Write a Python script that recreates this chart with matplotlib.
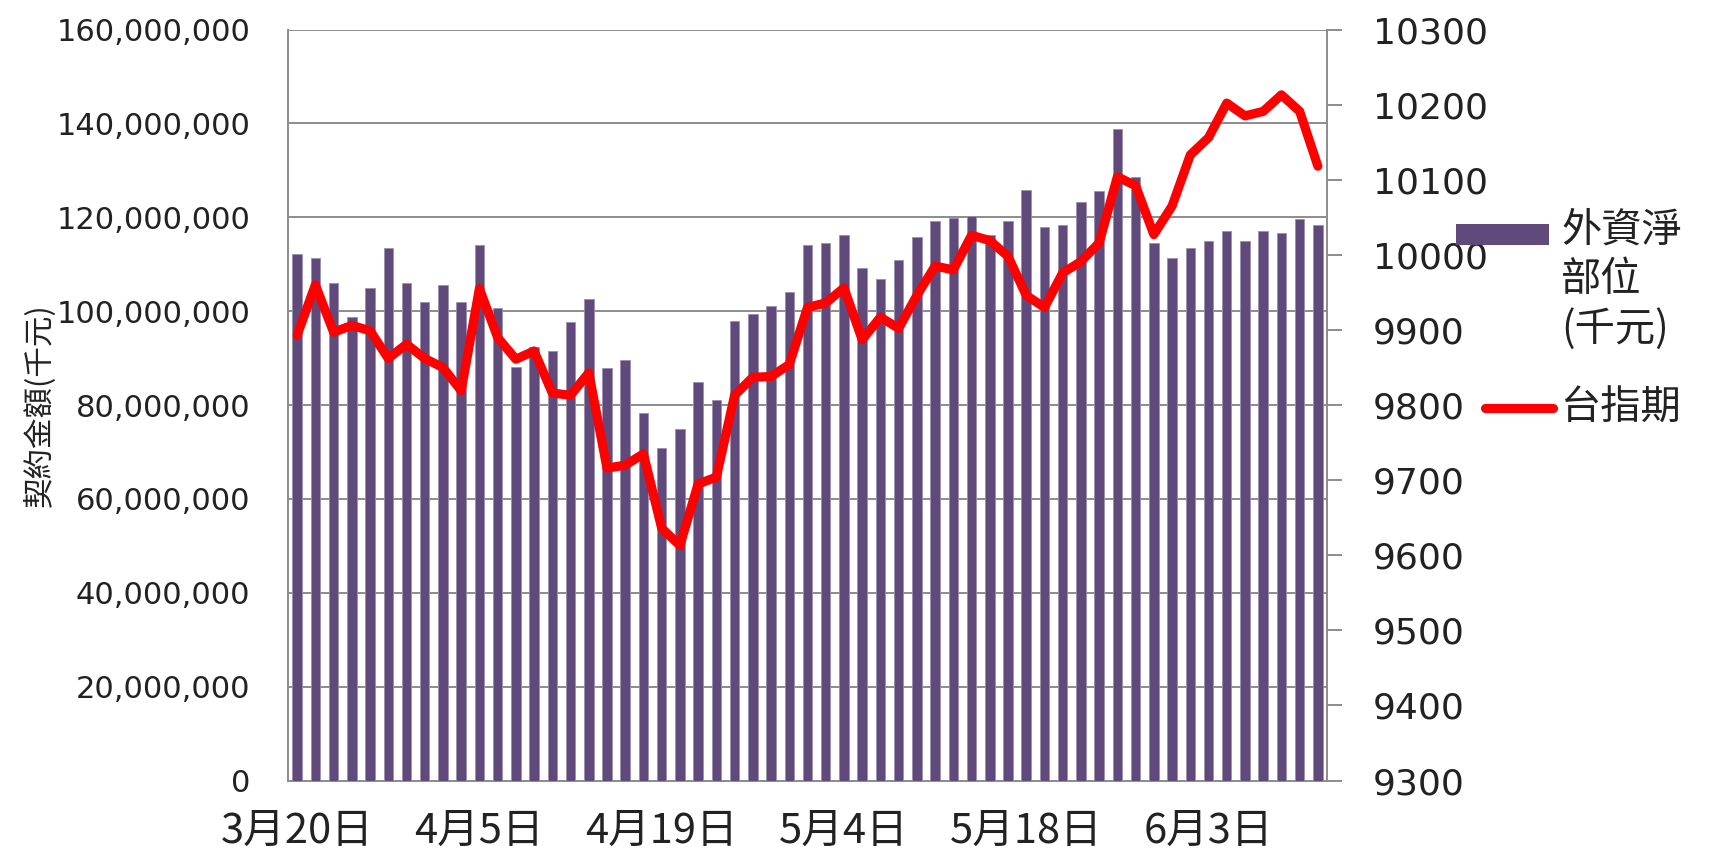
import matplotlib
matplotlib.use("Agg")
import matplotlib.pyplot as plt
from matplotlib.patches import Rectangle
from matplotlib.lines import Line2D
from matplotlib.ticker import FuncFormatter, MultipleLocator

# ---- data ----
foreign_net = [112.2, 111.3, 106.0, 98.7, 105.0, 113.5, 106.0, 102.0, 105.6, 102.0,
               114.0, 100.6, 88.2, 92.4, 91.5, 97.6, 102.6, 87.8, 89.6, 78.3,
               70.8, 74.8, 85.0, 81.0, 97.9, 99.3, 101.0, 104.1, 114.0, 114.5,
               116.2, 109.1, 106.9, 111.0, 115.8, 119.3, 119.8, 120.2, 116.2, 119.3,
               125.9, 117.9, 118.4, 123.3, 125.5, 138.9, 128.5, 114.5, 111.3, 113.5,
               114.9, 117.0, 114.9, 117.0, 116.6, 119.7, 118.4]  # millions of 千元
futures = [9893, 9960, 9897, 9906, 9899, 9862, 9881, 9862, 9850, 9819,
           9955, 9890, 9861, 9872, 9816, 9813, 9843, 9716, 9720, 9735,
           9636, 9613, 9695, 9704, 9813, 9837, 9838, 9854, 9930, 9936,
           9956, 9887, 9917, 9902, 9946, 9985, 9980, 10026, 10019, 9998,
           9946, 9930, 9976, 9991, 10016, 10104, 10092, 10027, 10065, 10133,
           10156, 10202, 10185, 10191, 10213, 10191, 10118]
tick_idx = [0, 10, 20, 30, 40, 50]
tick_labels = ["3月20日", "4月5日", "4月19日", "5月4日", "5月18日", "6月3日"]
bar_label = "外資淨\n部位\n(千元)"
line_label = "台指期"
ylabel = "契約金額(千元)"

W, H = 1712, 856
fig = plt.figure(figsize=(W / 100, H / 100), dpi=100)
fig.patch.set_facecolor("white")

L, R, T, B = 288, 1327, 29.5, 780.6
ax = fig.add_axes([L / W, 1 - B / H, (R - L) / W, (B - T) / H])
ax2 = ax.twinx()

x = list(range(len(foreign_net)))
bar_vals = [v * 1e6 for v in foreign_net]
bar_color = "#604A7B"
grid_color = "#8c8c8c"
text_color = "#222222"
cjk = ["Noto Sans CJK TC", "DejaVu Sans"]

ax.bar(x, bar_vals, width=0.52, color=bar_color, edgecolor="#9a8fae", linewidth=0.6, zorder=3)
ax.set_xlim(-0.5, len(x) - 0.5)
ax.set_ylim(0, 160e6)
ax.yaxis.set_major_locator(MultipleLocator(20e6))
ax.yaxis.set_major_formatter(FuncFormatter(lambda v, p: f"{int(round(v)):,}"))
ax.grid(axis="y", color=grid_color, linewidth=1.4, zorder=0)
ax.set_axisbelow(True)
ax.tick_params(axis="y", length=0, pad=27, labelsize=22, labelcolor=text_color)
for lab in ax.get_yticklabels():
    lab.set_family("DejaVu Sans")

ax.set_xticks(tick_idx)
ax.set_xticklabels(tick_labels, family=cjk, fontsize=30, color=text_color)
ax.tick_params(axis="x", length=0, pad=22)

ax.set_ylabel(ylabel, family=cjk, fontsize=22, color=text_color)
ax.yaxis.set_label_coords(-0.2245, 0.5)

ax2.plot(x, futures, color="#FF0000", linewidth=6.6, solid_joinstyle="round",
         solid_capstyle="round", zorder=5)
ax2.set_ylim(9300, 10300)
ax2.yaxis.set_major_locator(MultipleLocator(100))
ax2.tick_params(axis="y", direction="out", length=11, width=1.4, color=grid_color, pad=22,
                labelsize=26, labelcolor=text_color)

for a in (ax, ax2):
    for s in a.spines.values():
        s.set_color(grid_color)
        s.set_linewidth(1.4)
    a.spines["top"].set_visible(False)
ax.spines["right"].set_visible(False)
ax2.spines["left"].set_visible(False)
ax2.spines["bottom"].set_visible(False)

# ---- legend (drawn by hand at the right of the chart) ----
def fx(px):
    return px / W

def fy(py):
    return 1 - py / H

fig.add_artist(Rectangle((fx(1456), fy(245)), fx(1549) - fx(1456), fy(224) - fy(245),
                         transform=fig.transFigure, facecolor=bar_color, edgecolor="none",
                         zorder=10))
fig.text(fx(1561), fy(210), bar_label, family=cjk,
         fontsize=29, color=text_color, va="top", ha="left", linespacing=1.25)
fig.add_artist(Line2D([fx(1485), fx(1553)], [fy(408), fy(408)], transform=fig.transFigure,
                      color="#FF0000", linewidth=6.6, solid_capstyle="round", zorder=10))
fig.text(fx(1561), fy(408), line_label, family=cjk,
         fontsize=29, color=text_color, va="center", ha="left")

fig.savefig("out.png", dpi=100)
